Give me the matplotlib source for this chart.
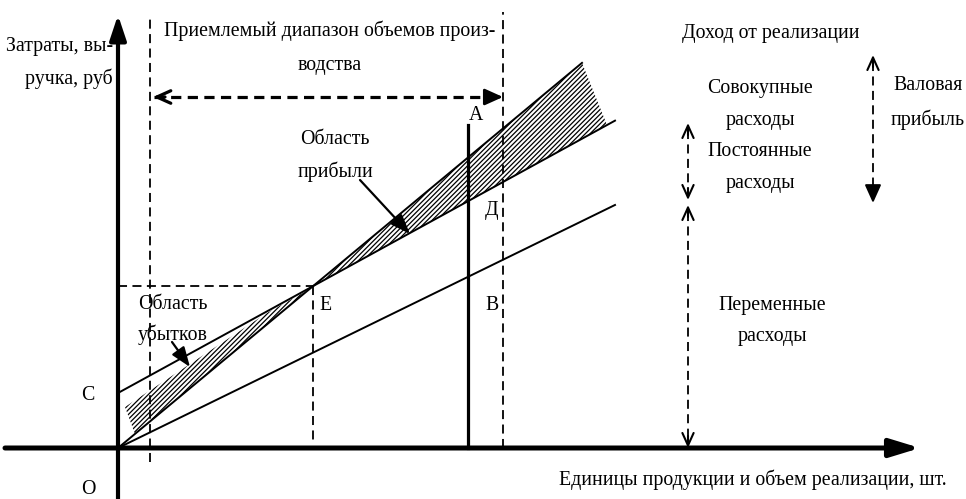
import matplotlib.pyplot as plt

plt.rcParams['font.family'] = ['Liberation Serif', 'DejaVu Serif']
plt.rcParams['hatch.linewidth'] = 0.9

# break-even chart; units are arbitrary, origin at point O
fixed_cost = 55
revenue_slope = 0.83
total_slope = 0.548
variable_slope = 0.489
x_end = 497            # cost lines stop here
revenue_end = 464      # revenue line / profit hatch stops here
hatch_corner = 489     # lower right corner of profit hatch (on total cost line)
volume_a = 350         # planned volume, vertical line A-B
range_lo, range_hi = 32, 385   # acceptable range of production volumes

# loss area hatch outline (drawn by hand in the original)
loss_x = [7, 149, 190, 17]
loss_y = [41, 135, 158, 14]


def revenue(x):
    return revenue_slope * x


def total(x):
    return fixed_cost + total_slope * x


def variable(x):
    return variable_slope * x


x_be = fixed_cost / (revenue_slope - total_slope)
y_be = revenue(x_be)

fig = plt.figure(figsize=(9.66, 4.99), dpi=100)
ax = fig.add_axes([0, 0, 1, 1])
ax.set_xlim(-118, 848)
ax.set_ylim(-51, 448)
ax.axis('off')

FS = 14.3


def head(tip, dx, dy, filled=True, lw=1.3, size=0.9):
    style = '-|>' if filled else '->'
    ax.annotate('', xy=tip, xytext=(tip[0] - dx, tip[1] - dy),
                arrowprops=dict(arrowstyle=f'{style},head_length={size},head_width={size * 0.45}',
                                lw=lw, color='black', shrinkA=0, shrinkB=0))


# axes with arrows
ax.annotate('', xy=(0, 433), xytext=(0, -51),
            arrowprops=dict(arrowstyle='-|>,head_length=1.5,head_width=0.5', lw=3,
                            color='black', shrinkA=0, shrinkB=0))
ax.annotate('', xy=(802, 0), xytext=(-113, 0),
            arrowprops=dict(arrowstyle='-|>,head_length=1.8,head_width=0.55', lw=3.6,
                            color='black', shrinkA=0, shrinkB=0))

# hatched areas
prof_x = [x_be, revenue_end, hatch_corner]
prof_y = [y_be, revenue(revenue_end), total(hatch_corner)]
ax.fill(prof_x, prof_y, facecolor='white', edgecolor='black', hatch='///////', lw=0)
ax.fill(loss_x, loss_y, facecolor='white', edgecolor='black', hatch='///////', lw=0)

# economic lines
ax.plot([0, revenue_end], [0, revenue(revenue_end)], color='black', lw=1.4)
ax.plot([0, x_end], [total(0), total(x_end)], color='black', lw=1.4)
ax.plot([0, x_end], [0, variable(x_end)], color='black', lw=1.4)

# planned volume A-B
ax.plot([volume_a, volume_a], [0, total(hatch_corner)], color='black', lw=2.3)

# dashed guides
dash = (0, (5, 3))
ax.plot([range_lo, range_lo], [-14, 433], color='black', lw=1.3, ls=dash)
ax.plot([range_hi, range_hi], [0, 436], color='black', lw=1.3, ls=dash)
ax.plot([0, x_be], [y_be, y_be], color='black', lw=1.3, ls=dash)
ax.plot([x_be, x_be], [y_be, 8], color='black', lw=1.3, ls=dash)

# acceptable range arrow
ax.plot([range_lo + 4, range_hi - 4], [351, 351], color='black', lw=2.3, ls=(0, (3.2, 2)))
head((range_lo + 3, 351), -12, 0, filled=False, lw=2.3, size=1.0)
head((range_hi, 351), 14, 0, filled=True, lw=2.0, size=1.1)

# right side brackets
ax.plot([755, 755], [386, 252], color='black', lw=1.3, ls=dash)
head((755, 393), 0, 12, filled=False, lw=1.5)
head((755, 245), 0, -14, filled=True, lw=1.5, size=1.1)

ax.plot([570, 570], [318, 255], color='black', lw=1.3, ls=dash)
head((570, 325), 0, 12, filled=False, lw=1.5)
head((570, 248), 0, -12, filled=False, lw=1.5)
ax.plot([570, 570], [236, 6], color='black', lw=1.3, ls=dash)
head((570, 243), 0, 12, filled=False, lw=1.5)
head((570, 0), 0, -12, filled=False, lw=1.5)

# label arrows
ax.annotate('', xy=(292, 214), xytext=(242, 268),
            arrowprops=dict(arrowstyle='-|>,head_length=1.2,head_width=0.45', lw=1.6,
                            color='black', shrinkA=0, shrinkB=0))
ax.annotate('', xy=(72, 81), xytext=(54, 106),
            arrowprops=dict(arrowstyle='-|>,head_length=1.2,head_width=0.45', lw=1.6,
                            color='black', shrinkA=0, shrinkB=0))

# texts
ax.text(-5, 385, 'Затраты, вы-\nручка, руб', ha='right', va='center', fontsize=FS,
        multialignment='right', linespacing=1.75)
ax.text(212, 400, 'Приемлемый диапазон объемов произ-\nводства', ha='center', va='center',
        fontsize=FS, linespacing=2.05)
ax.text(564, 415, 'Доход от реализации', ha='left', va='center', fontsize=FS)
ax.text(642, 312, 'Совокупные\nрасходы\nПостоянные\nрасходы', ha='center', va='center',
        fontsize=FS, linespacing=1.9)
ax.text(810, 345, 'Валовая\nприбыль', ha='center', va='center', fontsize=FS, linespacing=1.9)
ax.text(654, 127, 'Переменные\nрасходы', ha='center', va='center', fontsize=FS, linespacing=1.85)
ax.text(217, 292, 'Область\nприбыли', ha='center', va='center', fontsize=FS, linespacing=1.85)
ax.text(20, 128, 'Область\nубытков', ha='left', va='center', fontsize=FS, linespacing=1.7)
ax.text(-30, 53, 'С', ha='center', va='center', fontsize=FS)
ax.text(-30, -42, 'О', ha='center', va='center', fontsize=FS)
ax.text(207, 143, 'Е', ha='center', va='center', fontsize=FS)
ax.text(374, 143, 'В', ha='center', va='center', fontsize=FS)
ax.text(374, 238, 'Д', ha='center', va='center', fontsize=FS)
ax.text(358, 333, 'А', ha='center', va='center', fontsize=FS)
ax.text(829, -32, 'Единицы продукции и объем реализации, шт.', ha='right', va='center',
        fontsize=FS)

fig.savefig('out.png', dpi=100)
